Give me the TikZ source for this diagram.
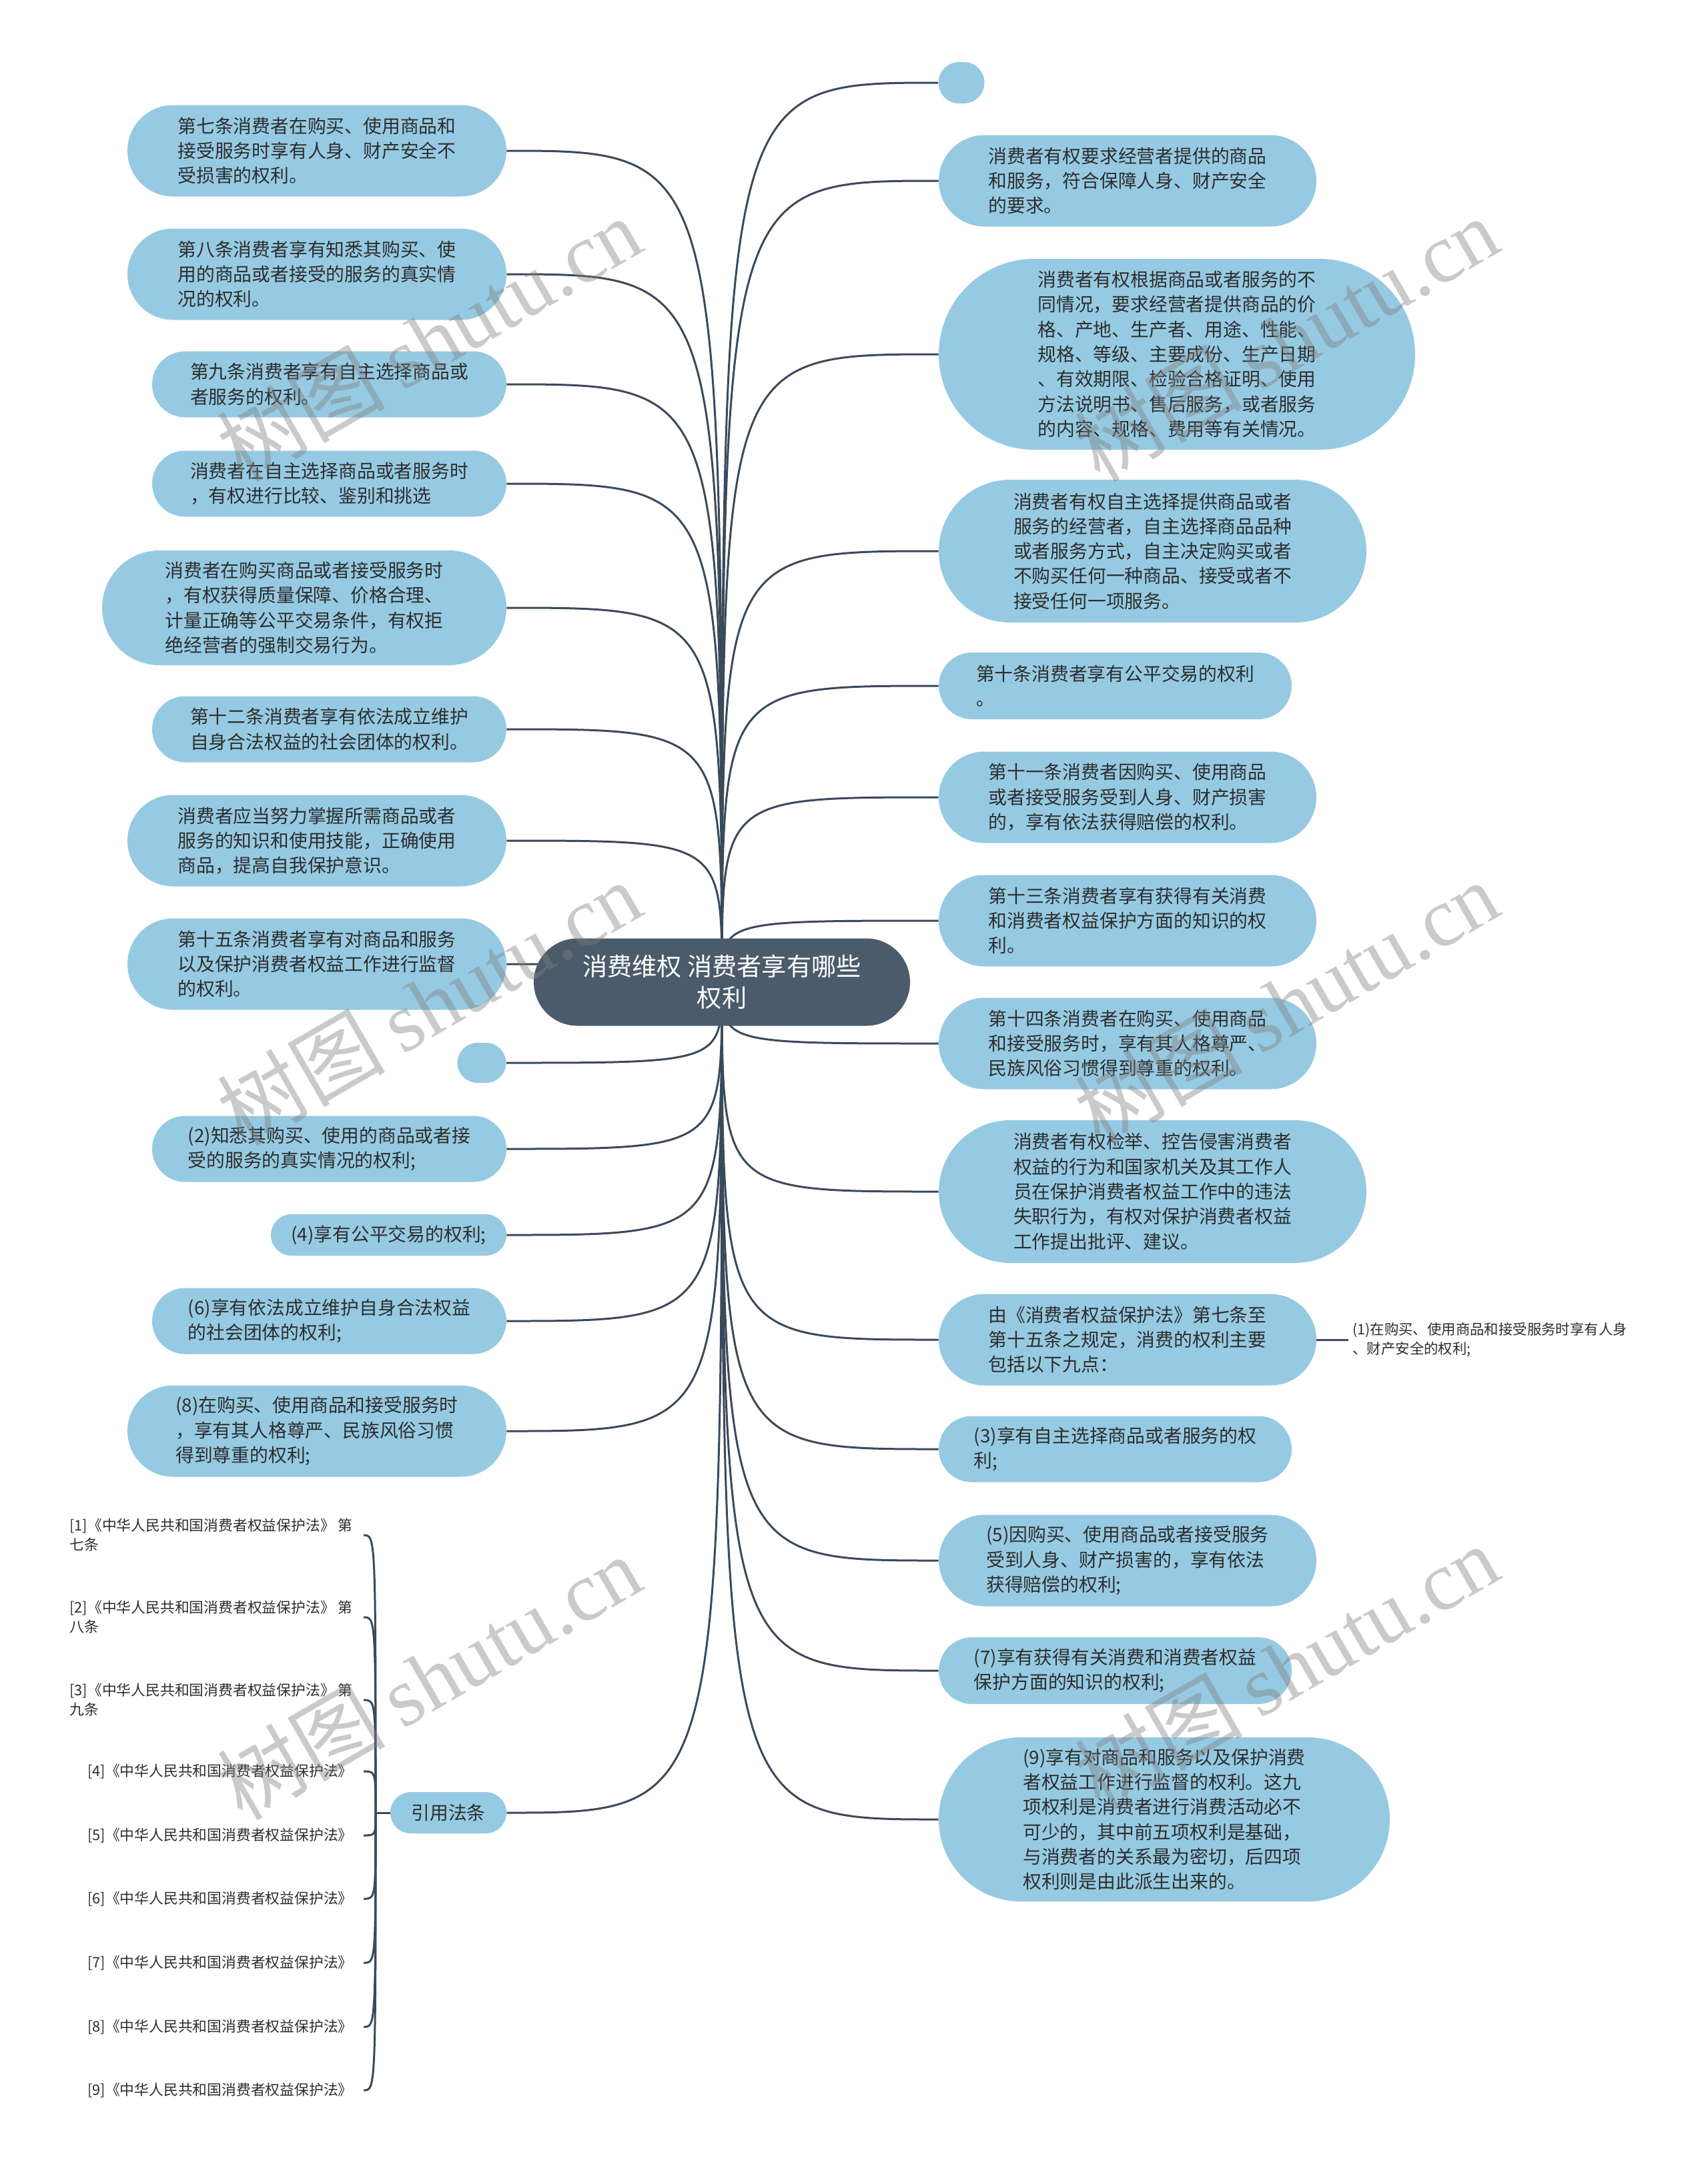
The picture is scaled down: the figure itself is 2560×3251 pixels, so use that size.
\documentclass[tikz,border=0pt]{standalone}
\usepackage{fontspec}
\setmainfont{Noto Sans CJK SC}
\newfontfamily\wmlatin{Liberation Serif}
\usetikzlibrary{calc}
\definecolor{nodeblue}{RGB}{150,202,226}
\definecolor{rootfill}{RGB}{75,91,107}
\definecolor{linec}{RGB}{58,74,90}
\definecolor{txt}{RGB}{45,45,45}
\pgfdeclarelayer{bg}\pgfdeclarelayer{fg}
\pgfsetlayers{bg,main,fg}
\tikzset{
  topic/.style={fill=nodeblue, draw=none, text=txt, align=left, inner sep=0pt,
    font=\fontsize{13.9pt}{18.65pt}\selectfont},
  sz/.style n args={3}{minimum width=#1, minimum height=#2, rounded corners=#3},
  rootnode/.style={fill=rootfill, draw=none, text=white, align=center, inner sep=0pt,
    font=\fontsize{18.6pt}{23.5pt}\selectfont},
  conn/.style={draw=linec, line width=1.5pt},
  cite/.style={text=txt, align=left, anchor=east, inner xsep=8pt, inner ysep=0pt,
    font=\fontsize{10.9pt}{14.5pt}\selectfont},
  small/.style={text=txt, align=left, anchor=west, inner xsep=3pt, inner ysep=0pt,
    font=\fontsize{10.7pt}{14.5pt}\selectfont},
  wm/.style={rotate=30, text=black!50, text opacity=0.42, inner sep=0pt,
    font=\fontsize{63pt}{63pt}\selectfont},
}
\begin{document}
\begin{tikzpicture}[x=0.5pt,y=-0.5pt]
\useasboundingbox (0,0) rectangle (2560,3251);

% root
\node[rootnode, sz={282pt}{65.5pt}{32.75pt}] (root) at (1082,1472) {消费维权 消费者享有哪些\\权利};

% left side
\node[topic, sz={284pt}{68.5pt}{34.25pt}] (L1) at (475,226) {第七条消费者在购买、使用商品和\\接受服务时享有人身、财产安全不\\受损害的权利。};
\node[topic, sz={284pt}{68.5pt}{34.25pt}] (L2) at (475,411) {第八条消费者享有知悉其购买、使\\用的商品或者接受的服务的真实情\\况的权利。};
\node[topic, sz={265.5pt}{49.5pt}{24.75pt}] (L3) at (493.5,576) {第九条消费者享有自主选择商品或\\者服务的权利。};
\node[topic, sz={265.5pt}{49.5pt}{24.75pt}] (L4) at (493.5,725) {消费者在自主选择商品或者服务时\\，有权进行比较、鉴别和挑选};
\node[topic, sz={303pt}{86pt}{43pt}] (L5) at (456,911) {消费者在购买商品或者接受服务时\\，有权获得质量保障、价格合理、\\计量正确等公平交易条件，有权拒\\绝经营者的强制交易行为。};
\node[topic, sz={265.5pt}{49.5pt}{24.75pt}] (L6) at (493.5,1093) {第十二条消费者享有依法成立维护\\自身合法权益的社会团体的权利。};
\node[topic, sz={284pt}{68.5pt}{34.25pt}] (L7) at (475,1260) {消费者应当努力掌握所需商品或者\\服务的知识和使用技能，正确使用\\商品，提高自我保护意识。};
\node[topic, sz={284pt}{68.5pt}{34.25pt}] (L8) at (475,1445) {第十五条消费者享有对商品和服务\\以及保护消费者权益工作进行监督\\的权利。};
\node[topic, sz={36.5pt}{30pt}{15pt}] (L9) at (722,1593) {};
\node[topic, sz={265.5pt}{49.5pt}{24.75pt}] (L10) at (493.5,1722) {(2)知悉其购买、使用的商品或者接\\受的服务的真实情况的权利;};
\node[topic, sz={176.5pt}{31pt}{15.5pt}] (L11) at (582.5,1851) {(4)享有公平交易的权利;};
\node[topic, sz={265.5pt}{49.5pt}{24.75pt}] (L12) at (493.5,1980) {(6)享有依法成立维护自身合法权益\\的社会团体的权利;};
\node[topic, sz={284pt}{68.5pt}{34.25pt}] (L13) at (475,2145) {(8)在购买、使用商品和接受服务时\\，享有其人格尊严、民族风俗习惯\\得到尊重的权利;};
\node[topic, sz={87pt}{31pt}{15.5pt}] (L14) at (672,2717) {引用法条};

% right side
\node[topic, sz={34.5pt}{31pt}{15.5pt}] (R1) at (1441,124) {};
\node[topic, sz={283pt}{68.5pt}{34.25pt}] (R2) at (1690,271) {消费者有权要求经营者提供的商品\\和服务，符合保障人身、财产安全\\的要求。};
\node[topic, sz={357pt}{143pt}{71.5pt}] (R3) at (1764,531) {消费者有权根据商品或者服务的不\\同情况，要求经营者提供商品的价\\格、产地、生产者、用途、性能、\\规格、等级、主要成份、生产日期\\、有效期限、检验合格证明、使用\\方法说明书、售后服务，或者服务\\的内容、规格、费用等有关情况。};
\node[topic, sz={320.5pt}{107pt}{53.5pt}] (R4) at (1727.5,826) {消费者有权自主选择提供商品或者\\服务的经营者，自主选择商品品种\\或者服务方式，自主决定购买或者\\不购买任何一种商品、接受或者不\\接受任何一项服务。};
\node[topic, sz={264.5pt}{50pt}{25pt}] (R5) at (1671.5,1028) {第十条消费者享有公平交易的权利\\。};
\node[topic, sz={283pt}{68.5pt}{34.25pt}] (R6) at (1690,1195) {第十一条消费者因购买、使用商品\\或者接受服务受到人身、财产损害\\的，享有依法获得赔偿的权利。};
\node[topic, sz={283pt}{68.5pt}{34.25pt}] (R7) at (1690,1380) {第十三条消费者享有获得有关消费\\和消费者权益保护方面的知识的权\\利。};
\node[topic, sz={283pt}{68.5pt}{34.25pt}] (R8) at (1690,1564) {第十四条消费者在购买、使用商品\\和接受服务时，享有其人格尊严、\\民族风俗习惯得到尊重的权利。};
\node[topic, sz={320.5pt}{107pt}{53.5pt}] (R9) at (1727.5,1786) {消费者有权检举、控告侵害消费者\\权益的行为和国家机关及其工作人\\员在保护消费者权益工作中的违法\\失职行为，有权对保护消费者权益\\工作提出批评、建议。};
\node[topic, sz={283pt}{68.5pt}{34.25pt}] (R10) at (1690,2008) {由《消费者权益保护法》第七条至\\第十五条之规定，消费的权利主要\\包括以下九点：};
\node[small] (R10a) at (2021,2008) {(1)在购买、使用商品和接受服务时享有人身\\、财产安全的权利;};
\node[topic, sz={264.5pt}{49.5pt}{24.75pt}] (R11) at (1671.5,2172) {(3)享有自主选择商品或者服务的权\\利;};
\node[topic, sz={283pt}{68.5pt}{34.25pt}] (R12) at (1690,2339) {(5)因购买、使用商品或者接受服务\\受到人身、财产损害的，享有依法\\获得赔偿的权利;};
\node[topic, sz={264.5pt}{50pt}{25pt}] (R13) at (1671.5,2504) {(7)享有获得有关消费和消费者权益\\保护方面的知识的权利;};
\node[topic, sz={338pt}{123pt}{61.5pt}] (R14) at (1745,2727) {(9)享有对商品和服务以及保护消费\\者权益工作进行监督的权利。这九\\项权利是消费者进行消费活动必不\\可少的，其中前五项权利是基础，\\与消费者的关系最为密切，后四项\\权利则是由此派生出来的。};

% citations
\node[cite] (C1) at (545,2301) {[1]《中华人民共和国消费者权益保护法》 第\\七条};
\node[cite] (C2) at (545,2424) {[2]《中华人民共和国消费者权益保护法》 第\\八条};
\node[cite] (C3) at (545,2548) {[3]《中华人民共和国消费者权益保护法》 第\\九条};
\node[cite] (C4) at (545,2655) {[4]《中华人民共和国消费者权益保护法》};
\node[cite] (C5) at (545,2751) {[5]《中华人民共和国消费者权益保护法》};
\node[cite] (C6) at (545,2846) {[6]《中华人民共和国消费者权益保护法》};
\node[cite] (C7) at (545,2942) {[7]《中华人民共和国消费者权益保护法》};
\node[cite] (C8) at (545,3038) {[8]《中华人民共和国消费者权益保护法》};
\node[cite] (C9) at (545,3133) {[9]《中华人民共和国消费者权益保护法》};
\coordinate (hub) at (563,2717);

% connectors
\begin{pgfonlayer}{bg}
\foreach \n in {L1,L2,L3,L4,L5,L6,L7,L8,L9,L10,L11,L12,L13,L14}
  \draw[conn] (root.center) .. controls (root.center |- \n.east) .. (\n.east);
\foreach \n in {R1,R2,R3,R4,R5,R6,R7,R8,R9,R10,R11,R12,R13,R14}
  \draw[conn] (root.center) .. controls (root.center |- \n.west) .. (\n.west);
\draw[conn] (R10.east) -- (R10a.west);
\draw[conn] (L14.west) -- (hub);
\foreach \c in {C1,C2,C3,C4,C5,C6,C7,C8,C9}
  \draw[conn] (hub) .. controls (hub |- \c.east) and (hub |- \c.east) .. (\c.east);
\end{pgfonlayer}

% watermarks
\begin{pgfonlayer}{fg}
\node[wm] (w1) at (643,508) {树图\hspace{0.2em}{\wmlatin shutu.cn}};
\node[wm] (w2) at (1928,508) {树图\hspace{0.2em}{\wmlatin shutu.cn}};
\node[wm] (w3) at (643,1503) {树图\hspace{0.2em}{\wmlatin shutu.cn}};
\node[wm] (w4) at (1928,1503) {树图\hspace{0.2em}{\wmlatin shutu.cn}};
\node[wm] (w5) at (643,2514) {树图\hspace{0.2em}{\wmlatin shutu.cn}};
\node[wm] (w6) at (1928,2498) {树图\hspace{0.2em}{\wmlatin shutu.cn}};
\end{pgfonlayer}
\end{tikzpicture}
\end{document}
